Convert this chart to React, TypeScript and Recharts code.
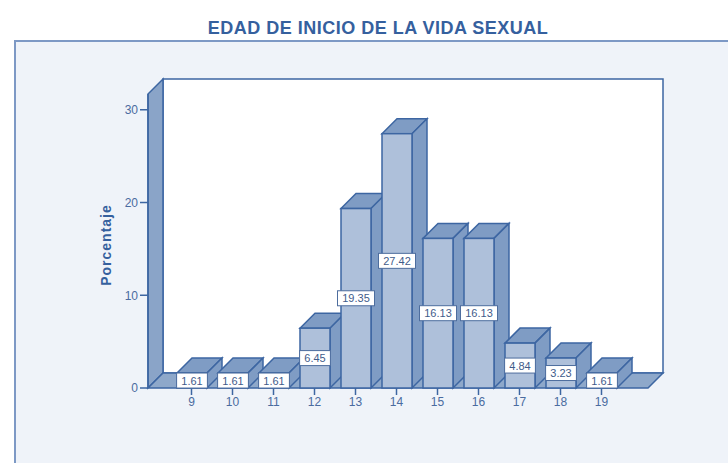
import React from 'react';
import { BarChart, Bar, XAxis, YAxis, ReferenceArea, LabelList } from 'recharts';

const edades = ['9', '10', '11', '12', '13', '14', '15', '16', '17', '18', '19'];
const porcentajes = [1.61, 1.61, 1.61, 6.45, 19.35, 27.42, 16.13, 16.13, 4.84, 3.23, 1.61];
const yTicks = [0, 10, 20, 30];

const data = edades.map((edad, i) => ({ edad, porcentaje: porcentajes[i] }));

const DEPTH = 15;
const PAD_LEFT = 23;
const PAD_RIGHT = 26;
const EDGE = '#3d66a2';
const TEXT = '#4a6ba0';

// back wall, left wall and floor of the 3D box
function Walls(props: any) {
  const { x, y, width, height } = props;
  const L = x - PAD_LEFT;
  const R = x + width + PAD_RIGHT;
  const T = y;
  const B = y + height;
  const d = DEPTH;
  return (
    <g>
      <rect x={L + d} y={T - d} width={R - L} height={B - T} fill="#ffffff" stroke={EDGE} strokeWidth={1.5} />
      <polygon
        points={`${L},${B} ${L},${T} ${L + d},${T - d} ${L + d},${B - d}`}
        fill="#8aa4c8"
        stroke={EDGE}
        strokeWidth={1.5}
      />
      <polygon
        points={`${L},${B} ${L + d},${B - d} ${R + d},${B - d} ${R},${B}`}
        fill="#8ea8ca"
        stroke={EDGE}
        strokeWidth={1.5}
      />
    </g>
  );
}

function Bar3D(props: any) {
  const { x, y, width, height } = props;
  const d = DEPTH;
  return (
    <g>
      <polygon
        points={`${x},${y} ${x + d},${y - d} ${x + width + d},${y - d} ${x + width},${y}`}
        fill="#7f9cc4"
        stroke={EDGE}
        strokeWidth={1.5}
      />
      <polygon
        points={`${x + width},${y} ${x + width + d},${y - d} ${x + width + d},${y + height - d} ${x + width},${y + height}`}
        fill="#7f9cc4"
        stroke={EDGE}
        strokeWidth={1.5}
      />
      <rect x={x} y={y} width={width} height={height} fill="#aec0da" stroke={EDGE} strokeWidth={1.5} />
    </g>
  );
}

function ValueLabel(props: any) {
  const { x, y, width, height, value } = props;
  const txt = Number(value).toFixed(2);
  const w = txt.length * 6.2 + 6;
  const h = 15;
  const cx = x + width / 2;
  const cy = y + height / 2;
  return (
    <g>
      <rect x={cx - w / 2} y={cy - h / 2} width={w} height={h} fill="#ffffff" stroke="#4d6d9e" strokeWidth={1} />
      <text x={cx} y={cy + 4} textAnchor="middle" fontSize={11} fill="#3f5c8a" fontFamily="Arial, 'Liberation Sans', sans-serif">
        {txt}
      </text>
    </g>
  );
}

export default function App() {
  return (
    <div style={{ position: 'absolute', left: 0, top: 0, width: 728, height: 463, background: '#ffffff', overflow: 'hidden', fontFamily: "Arial, 'Liberation Sans', sans-serif" }}>
      <div
        style={{
          position: 'absolute',
          left: 14,
          top: 40,
          width: 728,
          height: 463,
          background: '#eff3f9',
          borderLeft: '2px solid #7d99c5',
          borderTop: '2px solid #7d99c5',
        }}
      />
      <div
        style={{
          position: 'absolute',
          left: 0,
          top: 18,
          width: 756,
          textAlign: 'center',
          fontSize: 18,
          letterSpacing: 0.5,
          fontWeight: 'bold',
          color: '#35609e',
        }}
      >
        EDAD DE INICIO DE LA VIDA SEXUAL
      </div>
      <div style={{ position: 'absolute', left: 0, top: 0 }}>
        <BarChart width={728} height={463} data={data} margin={{ top: 94, right: 80, left: 88, bottom: 45 }}>
          <ReferenceArea y1={0} y2={31.7} shape={<Walls />} ifOverflow="visible" />
          <XAxis
            dataKey="edad"
            padding={{ left: PAD_LEFT, right: PAD_RIGHT }}
            axisLine={false}
            tickLine={{ stroke: EDGE, strokeWidth: 1.5 }}
            tickSize={7}
            tickMargin={2}
            height={30}
            tick={{ fill: TEXT, fontSize: 12 }}
            interval={0}
          />
          <YAxis
            domain={[0, 31.7]}
            ticks={yTicks}
            width={60}
            axisLine={{ stroke: EDGE, strokeWidth: 1.5 }}
            tickLine={{ stroke: EDGE, strokeWidth: 1.5 }}
            tickSize={8}
            tickMargin={2}
            tick={{ fill: TEXT, fontSize: 12 }}
            label={{
              value: 'Porcentaje',
              angle: -90,
              position: 'insideLeft',
              dx: 13,
              dy: 4,
              style: { fill: '#35609e', fontSize: 14, letterSpacing: 1, fontWeight: 'bold', textAnchor: 'middle' },
            }}
          />
          <Bar dataKey="porcentaje" barSize={30} shape={<Bar3D />} isAnimationActive={false}>
            <LabelList dataKey="porcentaje" content={<ValueLabel />} />
          </Bar>
        </BarChart>
      </div>
    </div>
  );
}
